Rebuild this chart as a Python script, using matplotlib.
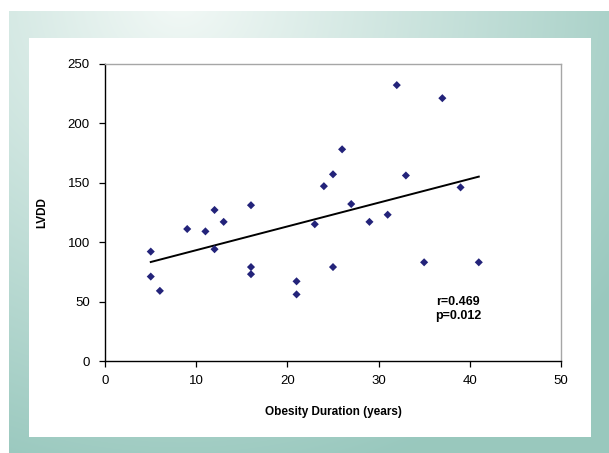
import numpy as np
import matplotlib
matplotlib.use("Agg")
import matplotlib.pyplot as plt

plt.rcParams["font.family"] = ["Liberation Sans", "DejaVu Sans"]

# ── Data ──────────────────────────────────────────────────────────────────────
duration_years = [5, 5, 6, 9, 11, 12, 12, 13, 16, 16, 16, 21, 21, 23, 24,
                  25, 25, 26, 27, 29, 31, 32, 33, 35, 37, 39, 41]
lvdd = [92, 71, 59, 111, 109, 127, 94, 117, 131, 79, 73, 67, 56, 115, 147,
        157, 79, 178, 132, 117, 123, 232, 156, 83, 221, 146, 83]

x_ticks = [0, 10, 20, 30, 40, 50]
y_ticks = [0, 50, 100, 150, 200, 250]
stats_text = "r=0.469\np=0.012"

# ── Figure ────────────────────────────────────────────────────────────────────
W, H = 609, 453
fig = plt.figure(figsize=(W / 100, H / 100), dpi=100)
fig.patch.set_facecolor("white")

# teal gradient frame behind the white panel
bg = fig.add_axes([9 / W, 0, 1 - 9 / W, 1 - 11 / H])
yy, xx = np.mgrid[11:H, 9:W]
dist = np.hypot(xx - 180, yy * 1.1)
t = np.clip(dist / 540, 0, 1)[..., None]
light = np.array([0.95, 0.975, 0.965])
teal = np.array([0.60, 0.785, 0.745])
bg.imshow(light * (1 - t) + teal * t, aspect="auto", interpolation="bilinear")
bg.set_axis_off()

panel = fig.add_axes([29 / W, (H - 437) / H, (591 - 29) / W, (437 - 38) / H])
panel.set_facecolor("white")
panel.set_xticks([])
panel.set_yticks([])
for s in panel.spines.values():
    s.set_visible(False)

ax = fig.add_axes([105.2 / W, (H - 361) / H, (560.8 - 105.2) / W, (361 - 63.7) / H])
ax.set_facecolor("white")

ax.scatter(duration_years, lvdd, marker="D", s=17, color="#23237a",
           edgecolors="none", zorder=3)

slope, intercept = np.polyfit(duration_years, lvdd, 1)
xs = np.array([min(duration_years), max(duration_years)])
ax.plot(xs, slope * xs + intercept, color="black", lw=1.4, zorder=2)

ax.text(38.7, 44, stats_text, ha="center", va="center", fontsize=9,
        fontweight="bold", linespacing=1.25)

ax.set_xlim(0, 50)
ax.set_ylim(0, 250)
ax.set_xticks(x_ticks)
ax.set_yticks(y_ticks)
ax.tick_params(direction="out", length=4, width=0.9, labelsize=9.5,
               colors="black", pad=6)
ax.tick_params(axis="y", pad=7)

for side in ("left", "bottom"):
    ax.spines[side].set_color("black")
    ax.spines[side].set_linewidth(1.0)
for side in ("top", "right"):
    ax.spines[side].set_color("#a6a6a6")
    ax.spines[side].set_linewidth(1.0)

ax.set_xlabel("Obesity Duration (years)", fontsize=8.5, fontweight="bold",
              labelpad=14)
ax.set_ylabel("LVDD", fontsize=8.5, fontweight="bold", labelpad=14)

fig.savefig("out.png", dpi=100)
